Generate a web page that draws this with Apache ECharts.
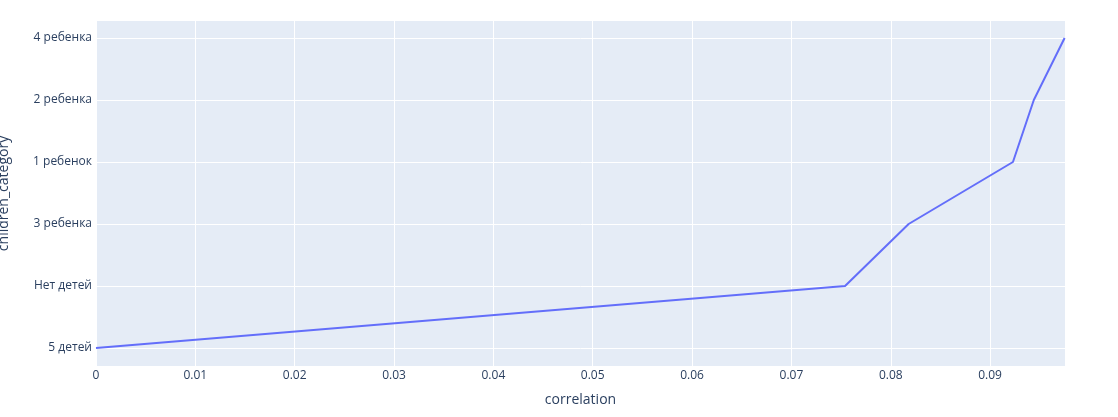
<!DOCTYPE html>
<html>
<head>
<meta charset="utf-8">
<script src="https://cdn.jsdelivr.net/npm/echarts@6/dist/echarts.min.js"></script>
<style>
  html, body { margin: 0; padding: 0; background: #fff; }
  #chart { width: 1118px; height: 417px; }
</style>
</head>
<body>
<div id="chart"></div>
<script>
// категории снизу вверх
var categories = ['5 детей', 'Нет детей', '3 ребенка', '1 ребенок', '2 ребенка', '4 ребенка'];
var correlation = [0, 0.0754, 0.0818, 0.0923, 0.0944, 0.0975];
var xTicks = [0, 0.01, 0.02, 0.03, 0.04, 0.05, 0.06, 0.07, 0.08, 0.09];

var chart = echarts.init(document.getElementById('chart'));

var seriesData = [];
for (var i = 0; i < categories.length; i++) {
    seriesData.push([correlation[i], categories[i]]);
}

var font = '"Open Sans", Verdana, Arial, sans-serif';
var xMax = 0.09754;

var option = {
    animation: false,
    textStyle: { fontFamily: font },
    grid: [
        // фон области графика
        { left: 96, right: 53, top: 21, bottom: 51, show: true, backgroundColor: '#E5ECF6', borderWidth: 0,
          containLabel: false, outerBoundsMode: 'none' },
        // сетка для линии
        { left: 96, right: 53, top: 38, bottom: 69, containLabel: false, outerBoundsMode: 'none' }
    ],
    xAxis: [
        {
            gridIndex: 0, type: 'value', min: 0, max: xMax, interval: 0.01,
            name: 'correlation', nameLocation: 'middle', nameGap: 27,
            nameTextStyle: { color: '#2a3f5f', fontSize: 14, fontFamily: font },
            axisLine: { show: false }, axisTick: { show: false },
            axisLabel: {
                color: '#2a3f5f', fontSize: 12, margin: 4, fontFamily: font,
                showMaxLabel: false,
                formatter: function (v) {
                    var t = Math.round(v * 100) / 100;
                    return xTicks.indexOf(t) >= 0 ? String(t) : '';
                }
            },
            splitLine: { show: true, lineStyle: { color: '#fff', width: 1 } }
        },
        {
            gridIndex: 1, type: 'value', min: 0, max: xMax, show: false
        }
    ],
    yAxis: [
        {
            gridIndex: 0, type: 'value', min: 0, max: 1,
            name: 'children_category', nameLocation: 'middle', nameGap: 85,
            nameTextStyle: { color: '#2a3f5f', fontSize: 14, fontFamily: font },
            axisLine: { show: false }, axisTick: { show: false },
            axisLabel: { show: false }, splitLine: { show: false }
        },
        {
            gridIndex: 1, type: 'category', data: categories, boundaryGap: false,
            axisLine: { show: false }, axisTick: { show: false },
            axisLabel: { color: '#2a3f5f', fontSize: 12, margin: 4, interval: 0, fontFamily: font },
            splitLine: { show: true, interval: 0, lineStyle: { color: '#fff', width: 1 } }
        }
    ],
    series: [{
        type: 'line',
        xAxisIndex: 1,
        yAxisIndex: 1,
        data: seriesData,
        symbol: 'none',
        lineStyle: { color: '#636efa', width: 2 }
    }]
};

chart.setOption(option);
</script>
</body>
</html>
